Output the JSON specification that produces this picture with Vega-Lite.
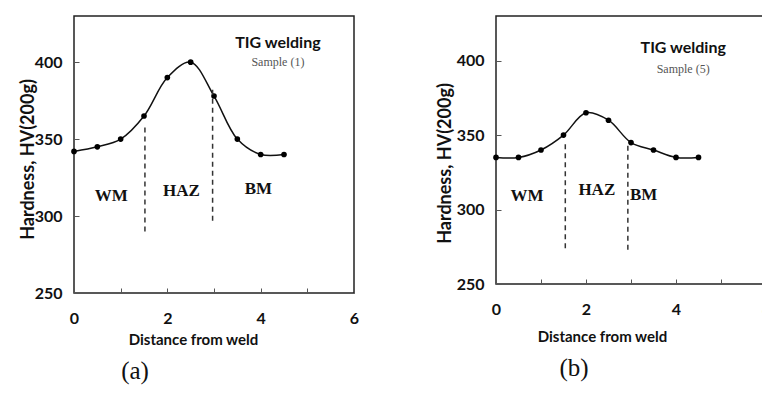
{
  "$schema": "https://vega.github.io/schema/vega-lite/v6.json",
  "background": "white",
  "padding": {"left": 18, "top": 15, "right": 0, "bottom": 0},
  "spacing": 75,
  "config": {
    "view": {"stroke": "#222222", "strokeWidth": 1.5},
    "axis": {
      "domain": false,
      "grid": false,
      "tickSize": -5,
      "tickColor": "#555555",
      "tickWidth": 1,
      "labelFont": "Lato",
      "labelFontSize": 16,
      "labelFontWeight": "bold",
      "labelColor": "#111111",
      "labelFlush": false,
      "titleFont": "Lato",
      "titleFontSize": 15,
      "titleFontWeight": "bold",
      "titleColor": "#111111"
    }
  },
  "datasets": {
    "a_pts": [
      {"x": 0, "y": 342}, {"x": 0.5, "y": 345}, {"x": 1, "y": 350}, {"x": 1.5, "y": 365}, {"x": 2, "y": 390},
      {"x": 2.5, "y": 400}, {"x": 3, "y": 378}, {"x": 3.5, "y": 350}, {"x": 4, "y": 340}, {"x": 4.5, "y": 340}
    ],
    "b_pts": [
      {"x": 0, "y": 335}, {"x": 0.5, "y": 335}, {"x": 1, "y": 340}, {"x": 1.5, "y": 350}, {"x": 2, "y": 365},
      {"x": 2.5, "y": 360}, {"x": 3, "y": 345}, {"x": 3.5, "y": 340}, {"x": 4, "y": 335}, {"x": 4.5, "y": 335}
    ],
    "a_dash": [
      {"x": 1.52, "y": 290, "y2": 358},
      {"x": 2.97, "y": 297, "y2": 383}
    ],
    "b_dash": [
      {"x": 1.54, "y": 274, "y2": 344},
      {"x": 2.93, "y": 273, "y2": 344}
    ],
    "a_text": [
      {"x": 0.8, "y": 313, "text": "WM", "kind": "zone"},
      {"x": 2.3, "y": 316, "text": "HAZ", "kind": "zone"},
      {"x": 3.95, "y": 317.5, "text": "BM", "kind": "zone"},
      {"x": 4.37, "y": 412.5, "text": "TIG welding", "kind": "head"},
      {"x": 4.37, "y": 400, "text": "Sample (1)", "kind": "sample"}
    ],
    "b_text": [
      {"x": 0.69, "y": 309, "text": "WM", "kind": "zone"},
      {"x": 2.24, "y": 313, "text": "HAZ", "kind": "zone"},
      {"x": 3.28, "y": 310, "text": "BM", "kind": "zone"},
      {"x": 4.16, "y": 408.5, "text": "TIG welding", "kind": "head"},
      {"x": 4.16, "y": 394.6, "text": "Sample (5)", "kind": "sample"}
    ]
  },
  "hconcat": [
    {
      "width": 280,
      "height": 277,
      "title": {"text": "(a)", "orient": "bottom", "anchor": "middle", "font": "Liberation Serif", "fontSize": 25, "fontWeight": "normal", "color": "#111111", "dx": -79, "offset": 12},
      "layer": [
        {
          "data": {"name": "a_pts"},
          "mark": {"type": "line", "interpolate": "catmull-rom", "color": "#111111", "strokeWidth": 1.5},
          "encoding": {
            "x": {"field": "x", "type": "quantitative", "scale": {"domain": [0, 6], "nice": false},
              "axis": {"title": "Distance from weld", "values": [0, 1, 2, 3, 4, 5, 6], "labelExpr": "datum.value % 2 === 0 ? datum.label : ''", "labelPadding": 22, "titleX": 119, "titleY": 46, "titleBaseline": "middle"}},
            "y": {"field": "y", "type": "quantitative", "scale": {"domain": [250, 430], "nice": false, "zero": false},
              "axis": {"title": "Hardness, HV(200g)", "titleFontSize": 18, "values": [250, 300, 350, 400], "labelPadding": 17, "titleX": -46, "titleY": 143, "titleBaseline": "middle"}}
          }
        },
        {
          "data": {"name": "a_pts"},
          "mark": {"type": "point", "filled": true, "size": 32, "color": "#000000", "opacity": 1},
          "encoding": {
            "x": {"field": "x", "type": "quantitative"},
            "y": {"field": "y", "type": "quantitative"}
          }
        },
        {
          "data": {"name": "a_dash"},
          "mark": {"type": "rule", "strokeDash": [5, 4], "color": "#333333", "strokeWidth": 1.5},
          "encoding": {
            "x": {"field": "x", "type": "quantitative"},
            "y": {"field": "y", "type": "quantitative"},
            "y2": {"field": "y2"}
          }
        },
        {
          "data": {"name": "a_text"},
          "transform": [{"filter": "datum.kind === 'zone'"}],
          "mark": {"type": "text", "font": "Liberation Serif", "fontWeight": "bold", "fontSize": 17, "color": "#111111"},
          "encoding": {
            "x": {"field": "x", "type": "quantitative"},
            "y": {"field": "y", "type": "quantitative"},
            "text": {"field": "text"}
          }
        },
        {
          "data": {"name": "a_text"},
          "transform": [{"filter": "datum.kind === 'head'"}],
          "mark": {"type": "text", "font": "Lato", "fontWeight": "bold", "fontSize": 16, "color": "#111111"},
          "encoding": {
            "x": {"field": "x", "type": "quantitative"},
            "y": {"field": "y", "type": "quantitative"},
            "text": {"field": "text"}
          }
        },
        {
          "data": {"name": "a_text"},
          "transform": [{"filter": "datum.kind === 'sample'"}],
          "mark": {"type": "text", "font": "Liberation Serif", "fontSize": 12, "color": "#555555"},
          "encoding": {
            "x": {"field": "x", "type": "quantitative"},
            "y": {"field": "y", "type": "quantitative"},
            "text": {"field": "text"}
          }
        }
      ]
    },
    {
      "width": 270,
      "height": 268,
      "title": {"text": "(b)", "orient": "bottom", "anchor": "middle", "font": "Liberation Serif", "fontSize": 25, "fontWeight": "normal", "color": "#111111", "dx": -57, "offset": 12},
      "layer": [
        {
          "data": {"name": "b_pts"},
          "mark": {"type": "line", "interpolate": "catmull-rom", "color": "#111111", "strokeWidth": 1.5},
          "encoding": {
            "x": {"field": "x", "type": "quantitative", "scale": {"domain": [0, 6], "nice": false},
              "axis": {"title": "Distance from weld", "values": [0, 1, 2, 3, 4, 5, 6], "labelExpr": "datum.value % 2 === 0 ? datum.label : ''", "labelPadding": 22, "titleX": 106, "titleY": 52, "titleBaseline": "middle"}},
            "y": {"field": "y", "type": "quantitative", "scale": {"domain": [250, 430], "nice": false, "zero": false},
              "axis": {"title": "Hardness, HV(200g)", "titleFontSize": 18, "values": [250, 300, 350, 400], "labelPadding": 17, "titleX": -51, "titleY": 147, "titleBaseline": "middle"}}
          }
        },
        {
          "data": {"name": "b_pts"},
          "mark": {"type": "point", "filled": true, "size": 32, "color": "#000000", "opacity": 1},
          "encoding": {
            "x": {"field": "x", "type": "quantitative"},
            "y": {"field": "y", "type": "quantitative"}
          }
        },
        {
          "data": {"name": "b_dash"},
          "mark": {"type": "rule", "strokeDash": [5, 4], "color": "#333333", "strokeWidth": 1.5},
          "encoding": {
            "x": {"field": "x", "type": "quantitative"},
            "y": {"field": "y", "type": "quantitative"},
            "y2": {"field": "y2"}
          }
        },
        {
          "data": {"name": "b_text"},
          "transform": [{"filter": "datum.kind === 'zone'"}],
          "mark": {"type": "text", "font": "Liberation Serif", "fontWeight": "bold", "fontSize": 17, "color": "#111111"},
          "encoding": {
            "x": {"field": "x", "type": "quantitative"},
            "y": {"field": "y", "type": "quantitative"},
            "text": {"field": "text"}
          }
        },
        {
          "data": {"name": "b_text"},
          "transform": [{"filter": "datum.kind === 'head'"}],
          "mark": {"type": "text", "font": "Lato", "fontWeight": "bold", "fontSize": 16, "color": "#111111"},
          "encoding": {
            "x": {"field": "x", "type": "quantitative"},
            "y": {"field": "y", "type": "quantitative"},
            "text": {"field": "text"}
          }
        },
        {
          "data": {"name": "b_text"},
          "transform": [{"filter": "datum.kind === 'sample'"}],
          "mark": {"type": "text", "font": "Liberation Serif", "fontSize": 12, "color": "#555555"},
          "encoding": {
            "x": {"field": "x", "type": "quantitative"},
            "y": {"field": "y", "type": "quantitative"},
            "text": {"field": "text"}
          }
        }
      ]
    }
  ]
}
